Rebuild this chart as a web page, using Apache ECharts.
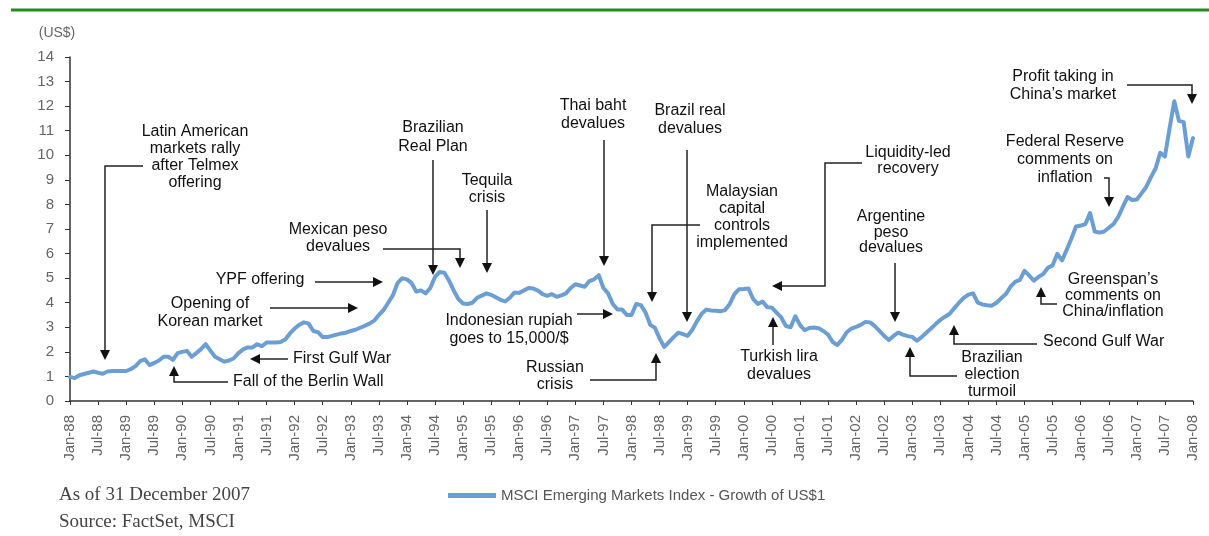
<!DOCTYPE html>
<html><head><meta charset="utf-8">
<script src="https://cdn.jsdelivr.net/npm/echarts@6/dist/echarts.min.js"></script>
<style>html,body{margin:0;padding:0;background:#fff}#c{width:1209px;height:536px}</style>
</head><body><div id="c"></div>
<script>
// ---- data ----
const MONTHS = ['Jan','Feb','Mar','Apr','May','Jun','Jul','Aug','Sep','Oct','Nov','Dec'];
const SERIES_NAME = 'MSCI Emerging Markets Index - Growth of US$1';
const Y_UNIT = '(US$)';
const y1988 = [0.98, 0.93, 1.05, 1.1, 1.15, 1.2, 1.15, 1.11, 1.2, 1.22, 1.22, 1.22];
const y1989 = [1.22, 1.3, 1.42, 1.62, 1.7, 1.46, 1.55, 1.65, 1.8, 1.8, 1.67, 1.95];
const y1990 = [2.0, 2.04, 1.8, 1.95, 2.11, 2.31, 2.05, 1.8, 1.7, 1.6, 1.65, 1.74];
const y1991 = [1.95, 2.1, 2.18, 2.18, 2.31, 2.23, 2.38, 2.38, 2.38, 2.4, 2.5, 2.75];
const y1992 = [2.95, 3.1, 3.2, 3.15, 2.85, 2.8, 2.6, 2.6, 2.65, 2.7, 2.75, 2.78];
const y1993 = [2.85, 2.9, 2.98, 3.06, 3.15, 3.27, 3.5, 3.7, 4.0, 4.3, 4.8, 5.0];
const y1994 = [4.95, 4.8, 4.45, 4.5, 4.38, 4.6, 5.05, 5.25, 5.22, 4.9, 4.5, 4.15];
const y1995 = [3.97, 3.95, 4.0, 4.2, 4.29, 4.38, 4.32, 4.22, 4.12, 4.05, 4.2, 4.42];
const y1996 = [4.4, 4.5, 4.6, 4.58, 4.49, 4.35, 4.28, 4.35, 4.24, 4.3, 4.38, 4.6];
const y1997 = [4.75, 4.7, 4.65, 4.88, 4.95, 5.12, 4.6, 4.38, 3.95, 3.72, 3.72, 3.5];
const y1998 = [3.5, 3.95, 3.9, 3.6, 3.1, 2.98, 2.55, 2.2, 2.4, 2.6, 2.78, 2.72];
const y1999 = [2.65, 2.9, 3.25, 3.55, 3.72, 3.68, 3.67, 3.65, 3.7, 3.95, 4.35, 4.55];
const y2000 = [4.56, 4.58, 4.15, 3.95, 4.05, 3.82, 3.8, 3.6, 3.4, 3.05, 3.0, 3.45];
const y2001 = [3.1, 2.88, 2.97, 2.99, 2.96, 2.85, 2.7, 2.4, 2.28, 2.5, 2.8, 2.95];
const y2002 = [3.02, 3.1, 3.22, 3.2, 3.05, 2.85, 2.65, 2.48, 2.65, 2.78, 2.7, 2.64];
const y2003 = [2.61, 2.45, 2.6, 2.78, 2.95, 3.13, 3.3, 3.43, 3.55, 3.78, 4.0, 4.2];
const y2004 = [4.33, 4.38, 4.0, 3.93, 3.9, 3.88, 4.0, 4.18, 4.35, 4.65, 4.85, 4.93];
const y2005 = [5.3, 5.1, 4.9, 5.05, 5.17, 5.42, 5.52, 5.99, 5.72, 6.15, 6.6, 7.1];
const y2006 = [7.14, 7.2, 7.65, 6.9, 6.85, 6.9, 7.05, 7.2, 7.48, 7.9, 8.3, 8.18];
const y2007 = [8.2, 8.45, 8.71, 9.1, 9.46, 10.1, 9.95, 11.1, 12.2, 11.4, 11.35, 9.95];
const y2008 = [10.7];

const values = [].concat(y1988, y1989, y1990, y1991, y1992, y1993, y1994, y1995, y1996, y1997,
  y1998, y1999, y2000, y2001, y2002, y2003, y2004, y2005, y2006, y2007, y2008);
const categories = values.map((_, i) => MONTHS[i % 12] + '-' + String((88 + Math.floor(i / 12)) % 100).padStart(2, '0'));

// ---- annotations (layout) ----
const NOTES = [
  {t:['Latin American','markets rally','after Telmex','offering'], x:195, y:132, lh:16.7},
  {t:['Opening of','Korean market'], x:210, y:304, lh:17.5},
  {t:['YPF offering'], x:260, y:280},
  {t:['Mexican peso','devalues'], x:338, y:230, lh:17},
  {t:['Brazilian','Real Plan'], x:433, y:128, lh:19},
  {t:['Tequila','crisis'], x:487, y:181, lh:17},
  {t:['Thai baht','devalues'], x:593, y:106, lh:18},
  {t:['Brazil real','devalues'], x:690, y:111, lh:18},
  {t:['Malaysian','capital','controls','implemented'], x:742, y:192, lh:17},
  {t:['Indonesian rupiah','goes to 15,000/$'], x:509, y:321, lh:17.5},
  {t:['Russian','crisis'], x:555, y:368, lh:17},
  {t:['Liquidity-led','recovery'], x:908, y:153, lh:16},
  {t:['Turkish lira','devalues'], x:779, y:357, lh:17.5},
  {t:['Argentine','peso','devalues'], x:891, y:217, lh:15.5},
  {t:['Brazilian','election','turmoil'], x:992, y:358, lh:17},
  {t:['Second Gulf War'], x:1043, y:342, align:'left'},
  {t:['Greenspan\u2019s','comments on','China/inflation'], x:1113, y:280, lh:16},
  {t:['Federal Reserve','comments on','inflation'], x:1065, y:142, lh:17.8},
  {t:['Profit taking in','China\u2019s market'], x:1063, y:77, lh:18},
  {t:['First Gulf War'], x:293, y:359, align:'left'},
  {t:['Fall of the Berlin Wall'], x:233, y:382, align:'left'}
];
const ARROWS = [
  [[143,166],[105,166],[105,360]],
  [[270,308],[358,308]],
  [[315,282],[383,282]],
  [[383,249],[460,249],[460,268]],
  [[433,160],[433,275]],
  [[487,210],[487,273]],
  [[604,140],[604,266]],
  [[687,150],[687,322]],
  [[700,225],[652,225],[652,302]],
  [[577,314],[613,314]],
  [[590,380],[656,380],[656,353]],
  [[862,163],[825,163],[825,286],[772,286]],
  [[773,345],[773,317]],
  [[895,263],[895,322]],
  [[957,376],[910,376],[910,347]],
  [[1037,344],[954,344],[954,325]],
  [[1057,304],[1041,304],[1041,287]],
  [[1104,178],[1109,178],[1109,207]],
  [[1127,85],[1192,85],[1192,104]],
  [[288,359],[250,359]],
  [[228,382],[174,382],[174,366]]
];

const FONT = '"Liberation Sans", Arial, Helvetica, sans-serif';
const graphic = [];
graphic.push({type:'rect', shape:{x:11, y:8.5, width:1198, height:3}, style:{fill:'#238b23'}, silent:true});
graphic.push({type:'text', x:57, y:33, style:{text:Y_UNIT, fill:'#666', font:'14px ' + FONT, align:'center', verticalAlign:'middle'}, silent:true});
graphic.push({type:'text', x:59, y:495, style:{text:'As of 31 December 2007', fill:'#444', font:'19px "Liberation Serif", "Times New Roman", serif', align:'left', verticalAlign:'middle'}, silent:true});
graphic.push({type:'text', x:59, y:522, style:{text:'Source: FactSet, MSCI', fill:'#444', font:'19px "Liberation Serif", "Times New Roman", serif', align:'left', verticalAlign:'middle'}, silent:true});

NOTES.forEach(n => {
  const lh = n.lh || 17;
  graphic.push({type:'text', x:n.x, y:n.y - lh / 2, z:10, silent:true,
    style:{text:n.t.join('\n'), fill:'#111', font:'16px ' + FONT, align:n.align || 'center', verticalAlign:'top', lineHeight:lh}});
});
ARROWS.forEach(pts => {
  const tip = pts[pts.length - 1], prev = pts[pts.length - 2];
  const dx = tip[0] - prev[0], dy = tip[1] - prev[1];
  const len = Math.hypot(dx, dy), ux = dx / len, uy = dy / len;
  const L = 10, W = 5;
  const bx = tip[0] - ux * L, by = tip[1] - uy * L;
  const linePts = pts.slice(0, -1).concat([[bx + ux, by + uy]]);
  graphic.push({type:'polyline', z:10, silent:true, shape:{points:linePts}, style:{stroke:'#222', lineWidth:1.5, fill:null}});
  graphic.push({type:'polygon', z:10, silent:true, shape:{points:[tip, [bx - uy * W, by + ux * W], [bx + uy * W, by - ux * W]]}, style:{fill:'#111'}});
});

const everySix = (i) => i % 6 === 0;
const chart = echarts.init(document.getElementById('c'), null, {renderer:'canvas'});
chart.setOption({
  animation:false,
  backgroundColor:'#fff',
  grid:{left:70, right:16, top:57, bottom:135, containLabel:false},
  legend:{data:[SERIES_NAME], left:443, top:483, icon:'rect', itemWidth:48, itemHeight:5,
    textStyle:{color:'#555', fontSize:15, fontFamily:FONT}},
  xAxis:{type:'category', data:categories, boundaryGap:false,
    axisLine:{lineStyle:{color:'#333', width:1.5}},
    axisTick:{interval:everySix, length:4, lineStyle:{color:'#333', width:1}},
    axisLabel:{interval:everySix, rotate:90, margin:14, color:'#666', fontSize:15, fontFamily:FONT},
    splitLine:{show:false}},
  yAxis:{type:'value', min:0, max:14, interval:1,
    axisLine:{show:true, lineStyle:{color:'#333', width:1.5}},
    axisTick:{show:true, length:5, lineStyle:{color:'#333', width:1}},
    axisLabel:{margin:16, color:'#666', fontSize:15, fontFamily:FONT},
    splitLine:{show:false}},
  series:[{type:'line', name:SERIES_NAME, data:values, symbol:'none', showSymbol:false,
    lineStyle:{width:4, color:'#6b9fd4', cap:'round', join:'round'}, itemStyle:{color:'#6b9fd4'}, z:2}],
  graphic:graphic
});
</script></body></html>
